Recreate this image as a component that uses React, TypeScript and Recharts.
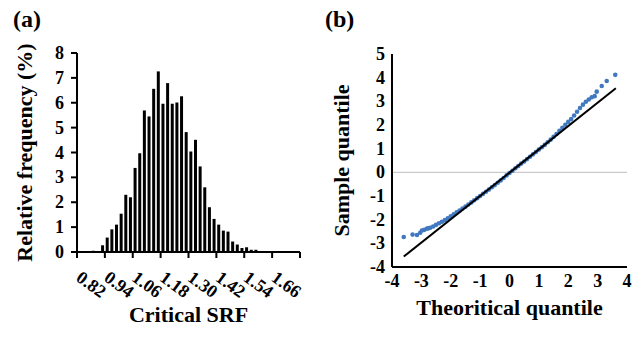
import React from 'react';
import {
  BarChart,
  Bar,
  XAxis,
  YAxis,
  ComposedChart,
  Scatter,
  ReferenceLine,
  Label,
} from 'recharts';

// ---------- Panel (a): histogram of critical SRF ----------
const srfBins = [
  '0.82', '0.84', '0.86', '0.88', '0.90', '0.92',
  '0.94', '0.96', '0.98', '1.00', '1.02', '1.04',
  '1.06', '1.08', '1.10', '1.12', '1.14', '1.16',
  '1.18', '1.20', '1.22', '1.24', '1.26', '1.28',
  '1.30', '1.32', '1.34', '1.36', '1.38', '1.40',
  '1.42', '1.44', '1.46', '1.48', '1.50', '1.52',
  '1.54', '1.56', '1.58', '1.60', '1.62', '1.64',
  '1.66', '1.68', '1.70', '1.72', '1.74', '1.76',
];
const relFreq = [
  0, 0, 0, 0.05, 0.02, 0.27,
  0.58, 0.91, 1.1, 1.54, 2.3, 2.2,
  3.38, 3.97, 5.69, 5.45, 6.56, 7.26,
  5.96, 6.79, 5.96, 6.01, 6.26, 4.82,
  4.04, 4.51, 3.44, 2.6, 1.8, 1.33,
  1.1, 0.86, 0.82, 0.42, 0.3, 0.16,
  0.19, 0.09, 0.09, 0, 0, 0.03,
  0, 0, 0, 0, 0, 0,
];
const srfTickLabels = ['0.82', '0.94', '1.06', '1.18', '1.30', '1.42', '1.54', '1.66'];
const freqTicks = [0, 1, 2, 3, 4, 5, 6, 7, 8];

// ---------- Panel (b): Q-Q plot ----------
const theoQ = [
  -3.6, -3.3, -3.15, -3.04, -2.98, -2.9, -2.81, -2.75, -2.7, -2.6,
  -2.5, -2.4, -2.3, -2.2, -2.1, -2.0, -1.9, -1.8, -1.7, -1.6,
  -1.5, -1.4, -1.3, -1.2, -1.1, -1.0, -0.9, -0.8, -0.7, -0.6,
  -0.5, -0.4, -0.3, -0.2, -0.1, 0, 0.1, 0.2, 0.3, 0.4,
  0.5, 0.6, 0.7, 0.8, 0.9, 1.0, 1.1, 1.2, 1.3, 1.4,
  1.5, 1.6, 1.7, 1.8, 1.9, 2.0, 2.1, 2.2, 2.3, 2.4,
  2.5, 2.6, 2.7, 2.8, 2.9, 2.97, 3.14, 3.31, 3.6,
];
const sampleQ = [
  -2.73, -2.63, -2.65, -2.55, -2.46, -2.43, -2.38, -2.36, -2.34, -2.29,
  -2.22, -2.15, -2.09, -2.02, -1.94, -1.86, -1.77, -1.69, -1.61, -1.53,
  -1.45, -1.36, -1.27, -1.18, -1.09, -1.0, -0.91, -0.82, -0.73, -0.63,
  -0.54, -0.44, -0.34, -0.24, -0.13, -0.03, 0.07, 0.17, 0.27, 0.37,
  0.46, 0.56, 0.66, 0.76, 0.86, 0.96, 1.06, 1.16, 1.27, 1.38,
  1.5, 1.62, 1.75, 1.88, 2.01, 2.13, 2.25, 2.4, 2.56, 2.72,
  2.86, 2.98, 3.08, 3.17, 3.22, 3.41, 3.65, 3.86, 4.12,
];
const fitTheo = [-3.6, 3.62];
const fitSample = [-3.56, 3.55];
const qqXTicks = [-4, -3, -2, -1, 0, 1, 2, 3, 4];
const qqYTicks = [-4, -3, -2, -1, 0, 1, 2, 3, 4, 5];

const histData = srfBins.map((bin, i) => ({ bin, freq: relFreq[i] }));
const qqData = theoQ.map((x, i) => ({ x, y: sampleQ[i] }));
const fitData = fitTheo.map((x, i) => ({ x, y: fitSample[i] }));

const FONT = "'Liberation Serif', 'Times New Roman', serif";
const tickStyle: React.CSSProperties = { fontFamily: FONT, fontWeight: 700, fontSize: '18px', fill: '#000' };
const titleStyle: React.CSSProperties = { fontFamily: FONT, fontWeight: 700, fontSize: '22px', fill: '#000' };
const BLUE = '#4179C0';

const XTitle = (text: string, dy: number) => (props: any) => {
  const vb = props.viewBox || {};
  return (
    <text x={vb.x + vb.width / 2} y={vb.y + dy} textAnchor="middle" style={titleStyle}>
      {text}
    </text>
  );
};

const YTitle = (text: string, dx: number) => (props: any) => {
  const vb = props.viewBox || {};
  const cx = vb.x + dx;
  const cy = vb.y + vb.height / 2;
  return (
    <text x={cx} y={cy} textAnchor="middle" transform={`rotate(-90, ${cx}, ${cy})`} style={titleStyle}>
      {text}
    </text>
  );
};

const LeftTick = (props: any) => {
  const { x, y, payload } = props;
  return (
    <text x={x} y={y} dy="0.34em" textAnchor="end" style={tickStyle}>
      {payload.value}
    </text>
  );
};

const BottomTick = (props: any) => {
  const { x, y, payload } = props;
  return (
    <text x={x} y={y} dy="0.68em" textAnchor="middle" style={tickStyle}>
      {payload.value}
    </text>
  );
};

const HistTick = (props: any) => {
  const { x, y, payload, index, visibleTicksCount, width } = props;
  let half = payload && typeof payload.offset === 'number' ? payload.offset : 0;
  if (!half && width && visibleTicksCount) half = width / visibleTicksCount / 2;
  const left = x - half;
  const show = srfTickLabels.includes(payload.value);
  const isLast = index === visibleTicksCount - 1;
  const tx = left - 2;
  const ty = y + 28;
  return (
    <g>
      {show && <line x1={left} x2={left} y1={y} y2={y + 6} stroke="#000" strokeWidth={2} />}
      {isLast && <line x1={x + half} x2={x + half} y1={y} y2={y + 6} stroke="#000" strokeWidth={2} />}
      {show && (
        <text x={tx} y={ty} textAnchor="start" transform={`rotate(36, ${tx}, ${ty})`} style={tickStyle}>
          {payload.value}
        </text>
      )}
    </g>
  );
};

const Dot = (props: any) => {
  const { cx, cy } = props;
  if (cx == null || cy == null) return <g />;
  return <circle cx={cx} cy={cy} r={2.3} fill={BLUE} />;
};

const NoDot = () => <g />;

const axisLine = { stroke: '#000', strokeWidth: 2 };

export default function App() {
  return (
    <div style={{ position: 'absolute', left: 0, top: 0, width: 638, height: 341, background: '#fff', overflow: 'hidden' }}>
      <div style={{ position: 'absolute', left: 0, top: 0 }}>
        <BarChart
          width={320}
          height={341}
          data={histData}
          margin={{ top: 53, right: 20, bottom: 9, left: 0 }}
          barCategoryGap="18%"
        >
          <XAxis
            dataKey="bin"
            height={80}
            interval={0}
            tickSize={0}
            tickMargin={0}
            tickLine={false}
            stroke="#000"
            axisLine={axisLine}
            tick={<HistTick />}
          >
            <Label content={XTitle('Critical SRF', 70)} />
          </XAxis>
          <XAxis xAxisId="top" orientation="top" dataKey="bin" height={0} stroke="#000" tick={false} tickLine={false} axisLine={axisLine} />
          <YAxis
            width={77}
            domain={[0, 8]}
            ticks={freqTicks}
            interval={0}
            tickSize={6}
            tickMargin={7}
            stroke="#000"
            tickLine={{ stroke: '#000', strokeWidth: 2 }}
            axisLine={axisLine}
            tick={<LeftTick />}
          >
            <Label content={YTitle('Relative frequency (%)', 32)} />
          </YAxis>
          <YAxis yAxisId="right" orientation="right" width={0} domain={[0, 8]} stroke="#000" tick={false} tickLine={false} axisLine={axisLine} />
          <Bar dataKey="freq" fill="#000" isAnimationActive={false} />
        </BarChart>
      </div>

      <div style={{ position: 'absolute', left: 320, top: 0 }}>
        <ComposedChart width={318} height={341} margin={{ top: 54, right: 11, bottom: 0, left: 0 }}>
          <XAxis
            type="number"
            dataKey="x"
            domain={[-4, 4]}
            ticks={qqXTicks}
            interval={0}
            height={74}
            tickSize={0}
            tickMargin={8}
            tickLine={false}
            stroke="#000"
            axisLine={axisLine}
            tick={<BottomTick />}
            allowDataOverflow
          >
            <Label content={XTitle('Theoritical quantile', 48)} />
          </XAxis>
          <XAxis xAxisId="top" orientation="top" type="number" domain={[-4, 4]} height={0} stroke="#000" tick={false} tickLine={false} axisLine={axisLine} />
          <YAxis
            type="number"
            dataKey="y"
            domain={[-4, 5]}
            ticks={qqYTicks}
            interval={0}
            width={72}
            tickSize={0}
            tickMargin={7}
            tickLine={false}
            stroke="#000"
            axisLine={axisLine}
            tick={<LeftTick />}
            allowDataOverflow
          >
            <Label content={YTitle('Sample quantile', 29)} />
          </YAxis>
          <YAxis yAxisId="right" orientation="right" type="number" width={0} domain={[-4, 5]} stroke="#000" tick={false} tickLine={false} axisLine={axisLine} />
          <ReferenceLine y={0} stroke="#BFBFBF" strokeWidth={1} />
          <Scatter data={qqData} dataKey="y" shape={<Dot />} isAnimationActive={false} />
          <Scatter
            data={fitData}
            dataKey="y"
            shape={<NoDot />}
            line={{ stroke: '#000', strokeWidth: 2 }}
            isAnimationActive={false}
          />
        </ComposedChart>
      </div>

      <svg width={638} height={341} style={{ position: 'absolute', left: 0, top: 0, pointerEvents: 'none' }}>
        <text x={13} y={27} style={{ fontFamily: FONT, fontWeight: 700, fontSize: '24px', fill: '#000' }}>(a)</text>
        <text x={325} y={27} style={{ fontFamily: FONT, fontWeight: 700, fontSize: '24px', fill: '#000' }}>(b)</text>
      </svg>
    </div>
  );
}
